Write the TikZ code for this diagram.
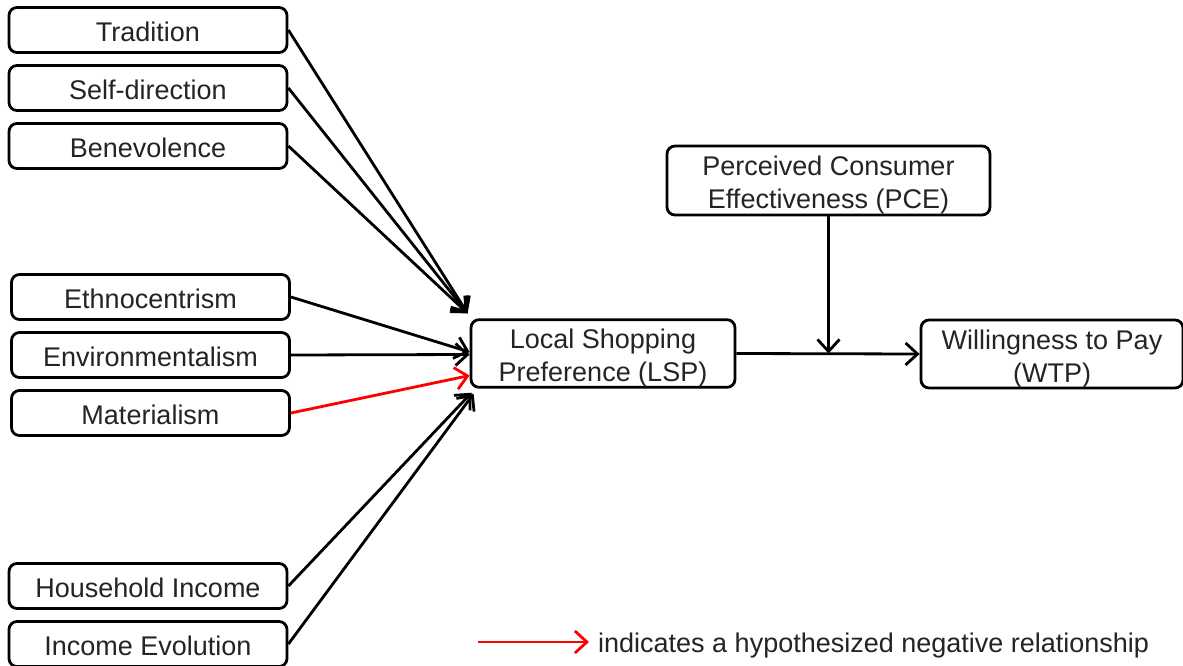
\documentclass[tikz,border=0pt]{standalone}
\usepackage{fontspec}
\setmainfont{Liberation Sans}
\usetikzlibrary{arrows.meta}
\newcommand{\toppad}{\rule{0pt}{29pt}}
\tikzset{
  x=1pt, y=-1pt,
  lbl/.style={font=\fontsize{27}{33}\selectfont, text=black!86},
  box/.style={draw, rounded corners=8pt, line width=2.8pt, inner sep=0pt,
    align=center, lbl},
  src/.style={box, minimum width=278pt, minimum height=45pt,
    execute at begin node={\rule{0pt}{23.5pt}}},
  link/.style={line width=2.8pt, -{Straight Barb[length=12pt,width=22pt,line width=2.8pt]}},
  neg/.style={link, red},
}
\begin{document}
\begin{tikzpicture}
\useasboundingbox (0,0) rectangle (1183,666);
\fill[white] (0,0) rectangle (1183,666);

% value and attitude antecedents
\node[src] (trad) at (148,30)  {Tradition};
\node[src] (self) at (148,88)  {Self-direction};
\node[src] (bene) at (148,146) {Benevolence};
\node[src] (ethn) at (150.5,297) {Ethnocentrism};
\node[src] (envi) at (150.5,355) {Environmentalism};
\node[src] (mate) at (150.5,413) {Materialism};
\node[src] (hinc) at (148,586) {Household Income};
\node[src] (ievo) at (148,644) {Income Evolution};

% central constructs
\node[box, minimum width=264pt, minimum height=67pt] (lsp) at (603,353.5)
  {\toppad Local Shopping\\Preference (LSP)};
\node[box, minimum width=323pt, minimum height=69pt] (pce) at (828.5,180.5)
  {\toppad Perceived Consumer\\Effectiveness (PCE)};
\node[box, minimum width=262pt, minimum height=68pt] (wtp) at (1052,354)
  {\toppad Willingness to Pay\\(WTP)};

% paths into LSP
\coordinate (tipTop) at ([xshift=-2pt,yshift=5pt]lsp.north west);
\draw[link] (trad.east) -- (tipTop);
\draw[link] (self.east) -- (tipTop);
\draw[link] (bene.east) -- (tipTop);
\draw[link] (ethn.east) -- ([yshift=1.5pt]lsp.west);
\draw[link] (envi.east) -- ([yshift=-1pt]lsp.west);
\draw[neg]  (mate.east) -- ([yshift=-22pt]lsp.west);
\draw[link] (hinc.east) -- ([xshift=2pt,yshift=-4pt]lsp.south west);
\draw[link] (ievo.east) -- ([xshift=4pt,yshift=-5pt]lsp.south west);

% LSP to WTP, moderated by PCE
\coordinate (mod) at (pce.south |- lsp.east);
\draw[link] (lsp.east) -- (wtp.west);
\draw[link] (pce.south) -- (mod);

% legend
\coordinate (legA) at (478,642);
\node[anchor=base west, lbl, inner sep=0pt]
  (legtxt) at (598,652) {indicates a hypothesized negative relationship};
\coordinate (legB) at ([xshift=-9pt]legA -| legtxt.west);
\draw[neg] (legA) -- (legB);
\end{tikzpicture}
\end{document}
